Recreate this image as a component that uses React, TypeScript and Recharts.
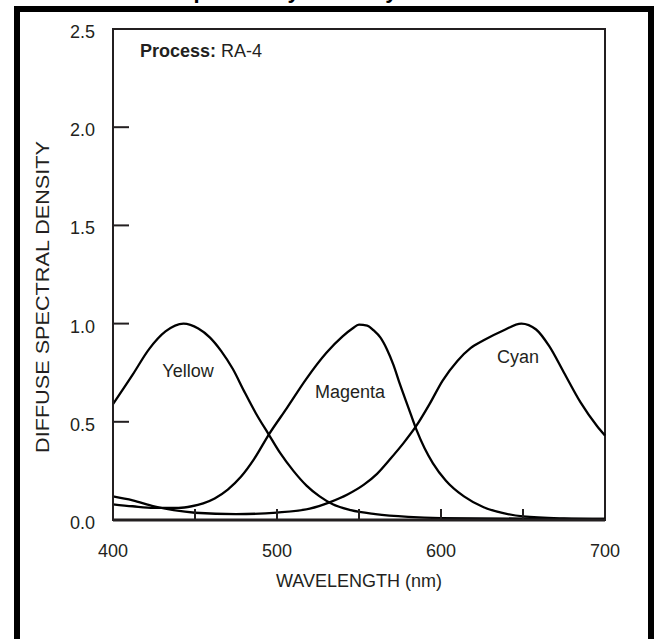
import React from "react";
import { LineChart, Line, XAxis, YAxis, ReferenceArea } from "recharts";

const yellowData = [
  { nm: 400, d: 0.59 }, { nm: 412, d: 0.74 }, { nm: 422, d: 0.87 }, { nm: 432, d: 0.96 },
  { nm: 443, d: 1.0 }, { nm: 452, d: 0.975 }, { nm: 459, d: 0.93 }, { nm: 466, d: 0.86 },
  { nm: 473, d: 0.77 }, { nm: 480, d: 0.655 }, { nm: 487, d: 0.545 }, { nm: 495, d: 0.435 },
  { nm: 502, d: 0.34 }, { nm: 510, d: 0.25 }, { nm: 518, d: 0.175 }, { nm: 526, d: 0.12 },
  { nm: 534, d: 0.08 }, { nm: 545, d: 0.05 }, { nm: 560, d: 0.03 }, { nm: 580, d: 0.016 },
  { nm: 600, d: 0.01 }, { nm: 650, d: 0.007 }, { nm: 700, d: 0.005 },
];

const magentaData = [
  { nm: 400, d: 0.08 }, { nm: 412, d: 0.07 }, { nm: 425, d: 0.062 }, { nm: 440, d: 0.062 },
  { nm: 448, d: 0.07 }, { nm: 455, d: 0.085 }, { nm: 462, d: 0.11 }, { nm: 470, d: 0.155 },
  { nm: 478, d: 0.22 }, { nm: 486, d: 0.31 }, { nm: 495, d: 0.435 }, { nm: 506, d: 0.57 },
  { nm: 518, d: 0.72 }, { nm: 530, d: 0.85 }, { nm: 540, d: 0.935 }, { nm: 546, d: 0.975 },
  { nm: 550, d: 0.995 }, { nm: 555, d: 0.99 }, { nm: 559, d: 0.965 }, { nm: 563, d: 0.93 },
  { nm: 567, d: 0.87 }, { nm: 571, d: 0.79 }, { nm: 575, d: 0.69 }, { nm: 580, d: 0.575 },
  { nm: 585, d: 0.46 }, { nm: 590, d: 0.365 }, { nm: 595, d: 0.29 }, { nm: 603, d: 0.2 },
  { nm: 614, d: 0.12 }, { nm: 626, d: 0.065 }, { nm: 638, d: 0.035 }, { nm: 650, d: 0.018 },
  { nm: 675, d: 0.008 }, { nm: 700, d: 0.005 },
];

const cyanData = [
  { nm: 400, d: 0.12 }, { nm: 412, d: 0.1 }, { nm: 425, d: 0.07 }, { nm: 437, d: 0.05 },
  { nm: 450, d: 0.037 }, { nm: 475, d: 0.03 }, { nm: 500, d: 0.038 }, { nm: 520, d: 0.058 },
  { nm: 532, d: 0.09 }, { nm: 543, d: 0.13 }, { nm: 553, d: 0.18 }, { nm: 561, d: 0.235 },
  { nm: 569, d: 0.31 }, { nm: 577, d: 0.39 }, { nm: 585, d: 0.48 }, { nm: 593, d: 0.59 },
  { nm: 601, d: 0.71 }, { nm: 610, d: 0.81 }, { nm: 618, d: 0.875 }, { nm: 626, d: 0.915 },
  { nm: 638, d: 0.965 }, { nm: 649, d: 1.0 }, { nm: 658, d: 0.97 }, { nm: 666, d: 0.885 },
  { nm: 675, d: 0.75 }, { nm: 685, d: 0.6 }, { nm: 695, d: 0.48 }, { nm: 700, d: 0.43 },
];

const xTicks = [400, 450, 500, 550, 600, 650, 700];
const xLabelTicks = [400, 500, 600, 700];
const yTicks = [0, 0.5, 1.0, 1.5, 2.0, 2.5];

const INK = "#231f20";
const FONT = "'Liberation Sans', Arial, Helvetica, sans-serif";

const XTick = (props: any) => {
  const { x, y, payload } = props;
  const v = payload.value;
  const showLine = v > 400 && v < 700;
  const showLabel = xLabelTicks.includes(v);
  return (
    <g>
      {showLine && <line x1={x} y1={y} x2={x} y2={y - 11} stroke={INK} strokeWidth={2} />}
      {showLabel && (
        <text x={x} y={y + 37} textAnchor="middle" fontSize={18} fill={INK} fontFamily={FONT}>
          {v}
        </text>
      )}
    </g>
  );
};

const YTick = (props: any) => {
  const { x, y, payload } = props;
  const v = payload.value;
  const showLine = v > 0 && v < 2.5;
  return (
    <g>
      {showLine && <line x1={x} y1={y} x2={x + 16} y2={y} stroke={INK} strokeWidth={2} />}
      <text x={x - 18} y={y + 9} textAnchor="end" fontSize={18} fill={INK} fontFamily={FONT}>
        {v.toFixed(1)}
      </text>
    </g>
  );
};

export default function App() {
  return (
    <div style={{ position: "absolute", left: 0, top: 0, width: 657, height: 639, background: "#fff", overflow: "hidden" }}>
      <div
        style={{
          position: "absolute",
          left: 0,
          width: 657,
          top: -20,
          height: 22,
          lineHeight: "22px",
          textAlign: "center",
          fontFamily: FONT,
          fontWeight: "bold",
          fontSize: 22,
          color: "#000",
          whiteSpace: "nowrap",
        }}
      >
        Spectral Dye Density Curves
      </div>
      <div
        style={{
          position: "absolute",
          left: 14,
          top: 6,
          width: 640,
          height: 700,
          border: "6px solid #000",
          boxSizing: "border-box",
        }}
      />
      <div style={{ position: "absolute", left: 0, top: 0 }}>
        <LineChart width={657} height={639} margin={{ top: 29, right: 52, left: 0, bottom: 0 }}>
          <XAxis
            dataKey="nm"
            type="number"
            domain={[400, 700]}
            ticks={xTicks}
            allowDuplicatedCategory={false}
            height={119}
            tickSize={0}
            tickMargin={0}
            tickLine={false}
            tick={<XTick />}
            axisLine={{ stroke: INK, strokeWidth: 3 }}
            interval={0}
          />
          <YAxis
            type="number"
            domain={[0, 2.5]}
            ticks={yTicks}
            width={113}
            tickSize={0}
            tickMargin={0}
            tickLine={false}
            tick={<YTick />}
            axisLine={{ stroke: INK, strokeWidth: 2 }}
            interval={0}
          />
          <ReferenceArea x1={400} x2={700} y1={0} y2={2.5} fill="none" stroke={INK} strokeWidth={2} />
          <Line data={yellowData} dataKey="d" type="monotone" stroke="#000" strokeWidth={2.3} dot={false} isAnimationActive={false} />
          <Line data={magentaData} dataKey="d" type="monotone" stroke="#000" strokeWidth={2.3} dot={false} isAnimationActive={false} />
          <Line data={cyanData} dataKey="d" type="monotone" stroke="#000" strokeWidth={2.3} dot={false} isAnimationActive={false} />
        </LineChart>
      </div>
      <svg width={657} height={639} style={{ position: "absolute", left: 0, top: 0, pointerEvents: "none" }}>
        <text x={140} y={57} fontSize={18} fill={INK} fontFamily={FONT}>
          <tspan fontWeight="bold">Process:</tspan>
          <tspan> RA-4</tspan>
        </text>
        <text x={188} y={377} textAnchor="middle" fontSize={18} fill={INK} fontFamily={FONT}>Yellow</text>
        <text x={350} y={398} textAnchor="middle" fontSize={18} fill={INK} fontFamily={FONT}>Magenta</text>
        <text x={518} y={363} textAnchor="middle" fontSize={18} fill={INK} fontFamily={FONT}>Cyan</text>
        <text
          x={0}
          y={0}
          transform="translate(49, 297) rotate(-90)"
          textAnchor="middle"
          fontSize={19}
          textLength={312}
          lengthAdjust="spacingAndGlyphs"
          fill={INK}
          fontFamily={FONT}
        >
          DIFFUSE SPECTRAL DENSITY
        </text>
        <text x={359} y={587} textAnchor="middle" fontSize={18} fill={INK} fontFamily={FONT}>
          WAVELENGTH (nm)
        </text>
      </svg>
    </div>
  );
}
